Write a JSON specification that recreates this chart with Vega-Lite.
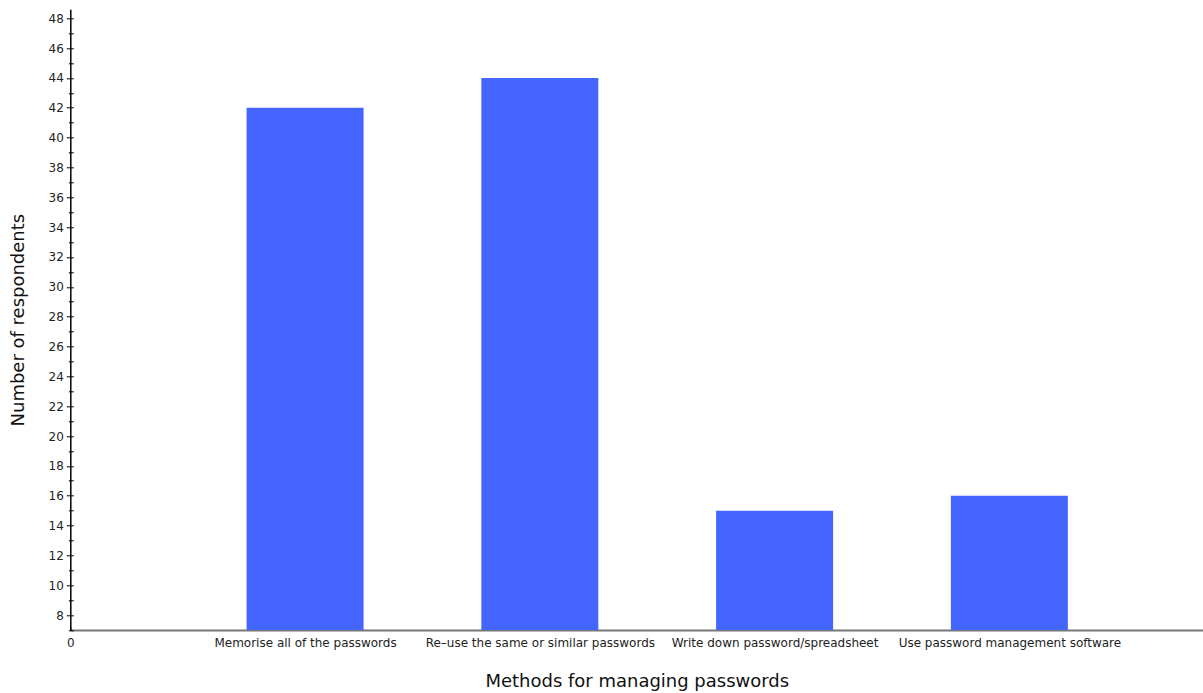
{
  "$schema": "https://vega.github.io/schema/vega-lite/v6.json",
  "width": 1133,
  "height": 620.7,
  "autosize": "none",
  "padding": {"left": 70.3, "top": 9.3, "right": 0, "bottom": 63},
  "background": "white",
  "config": {
    "view": {"stroke": null},
    "font": "DejaVu Sans",
    "axis": {"grid": false, "labelColor": "#222", "titleColor": "#111", "titleFontWeight": "normal", "labelFont": "DejaVu Sans", "titleFont": "DejaVu Sans", "labelLimit": 0}
  },
  "data": {
    "values": [
      {"method": "Memorise all of the passwords", "pos": 1, "count": 42},
      {"method": "Re-use the same or similar passwords", "pos": 2, "count": 44},
      {"method": "Write down password/spreadsheet", "pos": 3, "count": 15},
      {"method": "Use password management software", "pos": 4, "count": 16}
    ]
  },
  "layer": [
    {
      "mark": {"type": "bar", "color": "#4466ff", "width": 117},
      "encoding": {
        "x": {
          "field": "pos", "type": "quantitative",
          "scale": {"domain": [0, 4.826], "nice": false, "zero": false, "padding": 0},
          "axis": {
            "values": [0, 1, 2, 3, 4],
            "labelExpr": "datum.value == 0 ? '0' : datum.value == 1 ? 'Memorise all of the passwords' : datum.value == 2 ? 'Re–use the same or similar passwords' : datum.value == 3 ? 'Write down password/spreadsheet' : 'Use password management software'",
            "labelFontSize": 12, "labelFlush": false, "labelOverlap": false,
            "labelPadding": 12,
            "tickSize": -4, "tickColor": "#000", "tickWidth": 1,
            "domainColor": "#777", "domainWidth": 2,
            "title": "Methods for managing passwords", "titleFontSize": 18, "titlePadding": 24
          }
        },
        "y": {
          "field": "count", "type": "quantitative",
          "scale": {"domain": [7, 48.6], "nice": false, "zero": false, "padding": 0},
          "axis": {
            "orient": "left",
            "values": [8, 10, 12, 14, 16, 18, 20, 22, 24, 26, 28, 30, 32, 34, 36, 38, 40, 42, 44, 46, 48],
            "labelFontSize": 12, "labelPadding": 3,
            "tickSize": 4, "tickColor": "#000", "tickWidth": 1,
            "domainColor": "#000", "domainWidth": 1.5,
            "title": "Number of respondents", "titleFontSize": 18, "titlePadding": 21
          }
        },
        "y2": {"datum": 7}
      }
    },
    {
      "mark": {"type": "point", "opacity": 0},
      "encoding": {
        "x": {"field": "pos", "type": "quantitative"},
        "y": {
          "field": "count", "type": "quantitative",
          "axis": {
            "orient": "left",
            "values": [7, 8, 9, 10, 11, 12, 13, 14, 15, 16, 17, 18, 19, 20, 21, 22, 23, 24, 25, 26, 27, 28, 29, 30, 31, 32, 33, 34, 35, 36, 37, 38, 39, 40, 41, 42, 43, 44, 45, 46, 47, 48],
            "labels": false, "domain": false, "title": null,
            "tickSize": -3, "tickColor": "#000", "tickWidth": 1
          }
        }
      }
    },
    {
      "mark": {"type": "point", "opacity": 0},
      "encoding": {
        "x": {"field": "pos", "type": "quantitative"},
        "y": {
          "field": "count", "type": "quantitative",
          "axis": {
            "orient": "left",
            "values": [7, 9, 11, 13, 15, 17, 19, 21, 23, 25, 27, 29, 31, 33, 35, 37, 39, 41, 43, 45, 47],
            "labels": false, "domain": false, "title": null,
            "tickSize": 2, "tickColor": "#000", "tickWidth": 1
          }
        }
      }
    }
  ],
  "resolve": {"axis": {"y": "independent"}}
}
